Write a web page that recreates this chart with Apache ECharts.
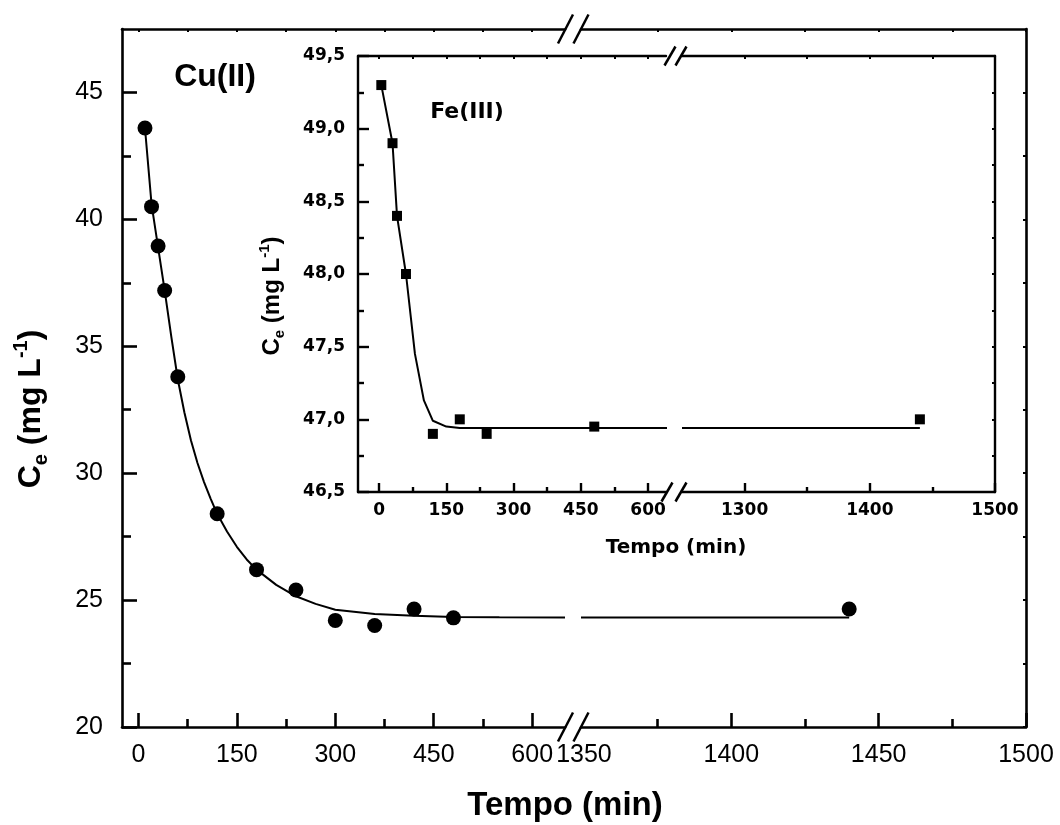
<!DOCTYPE html>
<html><head><meta charset="utf-8">
<script src="https://cdn.jsdelivr.net/npm/echarts@6/dist/echarts.min.js"></script>
<style>html,body{margin:0;padding:0;background:#fff}#c{width:1060px;height:825px}</style>
</head><body><div id="c"></div>
<script>
// ---- data ----
const cuTime = [10, 20, 30, 40, 60, 120, 180, 240, 300, 360, 420, 480, 1440];
const cuCe   = [43.6, 40.5, 38.95, 37.2, 33.8, 28.4, 26.2, 25.4, 24.2, 24.0, 24.65, 24.3, 24.65];
const cuFitTime = [10, 20, 30, 40, 50, 60, 70, 80, 90, 100, 110, 120, 135, 150, 165, 180, 210, 240, 270, 300, 360, 420, 480, 550, 650, 1349, 1440];
const cuFitCe   = [43.6, 40.6, 38.9, 37.2, 35.4, 33.7, 32.4, 31.3, 30.4, 29.65, 29.0, 28.4, 27.7, 27.1, 26.6, 26.2, 25.6, 25.15, 24.85, 24.62, 24.45, 24.38, 24.33, 24.32, 24.31, 24.31, 24.31];
const feTime = [5, 30, 40, 60, 120, 180, 240, 480, 1440];
const feCe   = [49.3, 48.9, 48.4, 48.0, 46.9, 47.0, 46.9, 46.95, 47.0];
const feFitTime = [5, 30, 40, 60, 80, 100, 120, 150, 180, 240, 300, 480, 648, 1250, 1440];
const feFitCe   = [49.3, 48.9, 48.4, 48.0, 47.45, 47.13, 46.99, 46.95, 46.94, 46.94, 46.94, 46.94, 46.94, 46.94, 46.94];
// ---- ticks ----
const mainXTicksA = [0, 150, 300, 450, 600];
const mainXMinorA = [75, 225, 375, 525];
const mainXLabelsB = [1350, 1400, 1450, 1500];
const mainXTicksB = [1400, 1450, 1500];
const mainXMinorB = [1375, 1425, 1475];
const mainYTicks = [20, 25, 30, 35, 40, 45];
const mainYMinor = [22.5, 27.5, 32.5, 37.5, 42.5];
const insetXTicksA = [0, 150, 300, 450, 600];
const insetXMinorA = [75, 225, 375, 525];
const insetXTicksB = [1300, 1400, 1500];
const insetXMinorB = [1350, 1450];
const insetYTicks = [46.5, 47, 47.5, 48, 48.5, 49, 49.5];
const insetYMinor = [46.75, 47.25, 47.75, 48.25, 48.75, 49.25];

const F_MAIN = '"Liberation Sans", Arial, sans-serif';
const F_IN = '"DejaVu Sans", sans-serif';
const ls = w => ({color: '#000', width: w});
const fmtInt = v => String(Math.round(Number(v)));
const fmtC = v => Number(v).toFixed(1).replace('.', ',');

const grids = [
  {left: 122, top: 29, width: 443, height: 698},
  {left: 581, top: 29, width: 445, height: 698},
  {left: 358, top: 56, width: 308, height: 436},
  {left: 682, top: 56, width: 313, height: 436}
];
const xAxes = [], yAxes = [];
function ax(list, o) {
  const base = {type: 'value', splitLine: {show: false}, axisLine: {show: false, onZero: false},
    axisTick: {show: false}, axisLabel: {show: false}, silent: true};
  list.push(Object.assign(base, o));
  return list.length - 1;
}
function lineAx(w) { return {show: true, onZero: false, lineStyle: ls(w)}; }
function ticks(vals, len, w) { return {show: true, inside: true, length: len, customValues: vals, lineStyle: ls(w)}; }
function mainLbl(vals, margin, fmt) {
  return {show: true, customValues: vals, formatter: fmt, fontSize: 25, fontFamily: F_MAIN, color: '#000', margin: margin};
}
function insetLbl(vals, margin, fmt) {
  return {show: true, customValues: vals, formatter: fmt, fontSize: 17, fontWeight: 'bold', fontFamily: F_IN, color: '#000', margin: margin};
}

// main segment A
const xMA = ax(xAxes, {gridIndex: 0, min: -25, max: 650, position: 'bottom', axisLine: lineAx(2.6),
  axisTick: ticks(mainXTicksA, 14, 2.6), axisLabel: mainLbl(mainXTicksA, 16, fmtInt)});
ax(xAxes, {gridIndex: 0, min: -25, max: 650, position: 'bottom', axisTick: ticks(mainXMinorA, 8, 2.6)});
ax(xAxes, {gridIndex: 0, min: -25, max: 650, position: 'top', axisLine: lineAx(2.6),
  axisTick: ticks(mainXTicksA.concat(mainXMinorA), 3, 2)});
const yMA = ax(yAxes, {gridIndex: 0, min: 20, max: 47.5, position: 'left', axisLine: lineAx(2.6),
  axisTick: ticks(mainYTicks, 15, 2.6), axisLabel: mainLbl(mainYTicks, 19, fmtInt)});
ax(yAxes, {gridIndex: 0, min: 20, max: 47.5, position: 'left', axisTick: ticks(mainYMinor, 9, 2.6)});
// main segment B
const xMB = ax(xAxes, {gridIndex: 1, min: 1349, max: 1500, position: 'bottom', axisLine: lineAx(2.6),
  axisTick: ticks(mainXTicksB, 14, 2.6), axisLabel: mainLbl(mainXLabelsB, 16, fmtInt)});
ax(xAxes, {gridIndex: 1, min: 1349, max: 1500, position: 'bottom', axisTick: ticks(mainXMinorB, 8, 2.6)});
ax(xAxes, {gridIndex: 1, min: 1349, max: 1500, position: 'top', axisLine: lineAx(2.6),
  axisTick: ticks(mainXTicksB.concat(mainXMinorB), 3, 2)});
const yMB = ax(yAxes, {gridIndex: 1, min: 20, max: 47.5, position: 'right', axisLine: lineAx(2.6),
  axisTick: ticks(mainYTicks.concat(mainYMinor), 3, 2)});

// inset segment A
const xIA = ax(xAxes, {gridIndex: 2, min: -47, max: 640, position: 'bottom', axisLine: lineAx(2.4),
  axisTick: ticks(insetXTicksA, 9, 2.4), axisLabel: insetLbl(insetXTicksA, 10, fmtInt)});
ax(xAxes, {gridIndex: 2, min: -47, max: 640, position: 'bottom', axisTick: ticks(insetXMinorA, 5, 2.4)});
ax(xAxes, {gridIndex: 2, min: -47, max: 640, position: 'top', axisLine: lineAx(2.4),
  axisTick: ticks(insetXTicksA.concat(insetXMinorA), 3, 2)});
const yIA = ax(yAxes, {gridIndex: 2, min: 46.5, max: 49.5, position: 'left', axisLine: lineAx(2.4),
  axisTick: ticks(insetYTicks, 11, 2.4), axisLabel: insetLbl(insetYTicks, 13, fmtC)});
ax(yAxes, {gridIndex: 2, min: 46.5, max: 49.5, position: 'left', axisTick: ticks(insetYMinor, 6, 2.4)});
// inset segment B
const xIB = ax(xAxes, {gridIndex: 3, min: 1250, max: 1500, position: 'bottom', axisLine: lineAx(2.4),
  axisTick: ticks(insetXTicksB, 9, 2.4), axisLabel: insetLbl(insetXTicksB, 10, fmtInt)});
ax(xAxes, {gridIndex: 3, min: 1250, max: 1500, position: 'bottom', axisTick: ticks(insetXMinorB, 5, 2.4)});
ax(xAxes, {gridIndex: 3, min: 1250, max: 1500, position: 'top', axisLine: lineAx(2.4),
  axisTick: ticks(insetXTicksB.concat(insetXMinorB), 3, 2)});
const yIB = ax(yAxes, {gridIndex: 3, min: 46.5, max: 49.5, position: 'right', axisLine: lineAx(2.4),
  axisTick: ticks(insetYTicks.concat(insetYMinor), 3, 2)});

function pairs(xs, ys, pred) { const o = []; xs.forEach((x, i) => { if (pred(x)) o.push([x, ys[i]]); }); return o; }
const isA = t => t <= 700, isB = t => t > 700;
function fit(xi, yi, data) {
  return {type: 'line', xAxisIndex: xi, yAxisIndex: yi, data, symbol: 'none', smooth: false,
    clip: false, silent: true, lineStyle: {color: '#000', width: 2}, z: 2};
}
function pts(xi, yi, data, sym, size) {
  return {type: 'scatter', xAxisIndex: xi, yAxisIndex: yi, data, symbol: sym, symbolSize: size,
    itemStyle: {color: '#000', opacity: 1}, silent: true, z: 3};
}
const series = [
  fit(xMA, yMA, pairs(cuFitTime, cuFitCe, isA)),
  fit(xMB, yMB, pairs(cuFitTime, cuFitCe, isB)),
  pts(xMA, yMA, pairs(cuTime, cuCe, isA), 'circle', 15),
  pts(xMB, yMB, pairs(cuTime, cuCe, isB), 'circle', 15),
  fit(xIA, yIA, pairs(feFitTime, feFitCe, isA)),
  fit(xIB, yIB, pairs(feFitTime, feFitCe, isB)),
  pts(xIA, yIA, pairs(feTime, feCe, isA), 'rect', 10),
  pts(xIB, yIB, pairs(feTime, feCe, isB), 'rect', 10)
];

function slash(cx, cy, dx, dy) {
  return {type: 'line', shape: {x1: cx - dx, y1: cy + dy, x2: cx + dx, y2: cy - dy},
    style: {stroke: '#000', lineWidth: 2.5}, silent: true, z: 10};
}
const graphic = [
  slash(565.5, 29, 7.5, 14.5), slash(581, 29, 7.5, 14.5),
  slash(565.5, 727, 7.5, 14.5), slash(581, 727, 7.5, 14.5),
  slash(670, 56, 5.5, 9.5), slash(681, 56, 5.5, 9.5),
  slash(667, 492, 5.5, 9.5), slash(681, 492, 5.5, 9.5),
  {type: 'text', x: 215, y: 77, silent: true,
    style: {text: 'Cu(II)', font: 'bold 32px "Liberation Sans", Arial, sans-serif', fill: '#000', align: 'center', verticalAlign: 'middle'}},
  {type: 'text', x: 467, y: 112, silent: true,
    style: {text: 'Fe(III)', font: 'bold 22px "DejaVu Sans", sans-serif', fill: '#000', align: 'center', verticalAlign: 'middle'}},
  {type: 'text', x: 565, y: 806, silent: true,
    style: {text: 'Tempo (min)', font: 'bold 33px "Liberation Sans", Arial, sans-serif', fill: '#000', align: 'center', verticalAlign: 'middle'}},
  {type: 'text', x: 676, y: 548, silent: true,
    style: {text: 'Tempo (min)', font: 'bold 20px "DejaVu Sans", sans-serif', fill: '#000', align: 'center', verticalAlign: 'middle'}},
  {type: 'text', x: 31, y: 409, rotation: Math.PI / 2, silent: true,
    style: {text: '{b|C}{s|e}{b| (mg L}{p|-1}{b|)}', fill: '#000', align: 'center', verticalAlign: 'middle',
      rich: {
        b: {fontSize: 32, fontWeight: 'bold', fontFamily: F_MAIN, lineHeight: 40, fill: '#000'},
        s: {fontSize: 20, fontWeight: 'bold', fontFamily: F_MAIN, lineHeight: 20, verticalAlign: 'bottom', fill: '#000'},
        p: {fontSize: 20, fontWeight: 'bold', fontFamily: F_MAIN, lineHeight: 20, verticalAlign: 'top', fill: '#000'}
      }}},
  {type: 'text', x: 272, y: 296, rotation: Math.PI / 2, silent: true,
    style: {text: '{b|C}{s|e}{b| (mg L}{p|-1}{b|)}', fill: '#000', align: 'center', verticalAlign: 'middle',
      rich: {
        b: {fontSize: 24, fontWeight: 'bold', fontFamily: F_MAIN, lineHeight: 30, fill: '#000'},
        s: {fontSize: 15, fontWeight: 'bold', fontFamily: F_MAIN, lineHeight: 15, verticalAlign: 'bottom', fill: '#000'},
        p: {fontSize: 15, fontWeight: 'bold', fontFamily: F_MAIN, lineHeight: 15, verticalAlign: 'top', fill: '#000'}
      }}}
];

const chart = echarts.init(document.getElementById('c'), null, {renderer: 'canvas'});
chart.setOption({
  backgroundColor: '#fff',
  animation: false,
  grid: grids,
  xAxis: xAxes,
  yAxis: yAxes,
  series: series,
  graphic: graphic
});
</script>
</body></html>
